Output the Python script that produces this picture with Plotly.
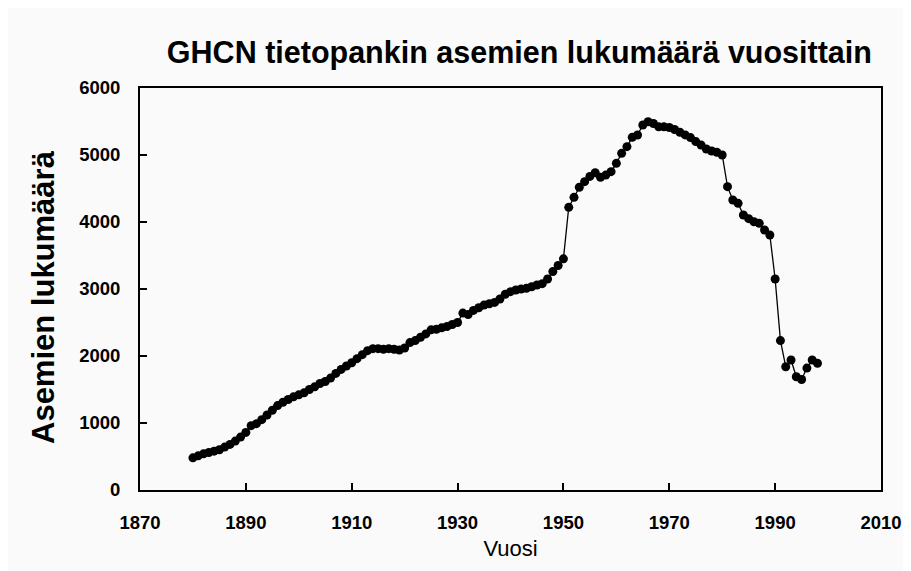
import plotly.graph_objects as go

years = list(range(1880, 1999))
stations = [
    480, 510, 540, 560, 580, 600, 640, 680, 730, 790,          # 1880-1889
    860, 960, 990, 1050, 1120, 1190, 1260, 1310, 1350, 1390,   # 1890-1899
    1420, 1450, 1500, 1540, 1590, 1620, 1670, 1740, 1800, 1850,  # 1900-1909
    1900, 1960, 2020, 2080, 2110, 2110, 2100, 2110, 2100, 2090,  # 1910-1919
    2120, 2200, 2230, 2280, 2330, 2390, 2400, 2420, 2440, 2470,  # 1920-1929
    2500, 2640, 2620, 2680, 2720, 2760, 2780, 2800, 2850, 2920,  # 1930-1939
    2960, 2985, 3000, 3010, 3034, 3060, 3080, 3150, 3260, 3350,  # 1940-1949
    3450, 4219, 4368, 4518, 4602, 4680, 4736, 4667, 4700, 4751,  # 1950-1959
    4876, 5025, 5124, 5264, 5298, 5448, 5497, 5470, 5420, 5420,  # 1960-1969
    5410, 5380, 5340, 5300, 5260, 5200, 5150, 5090, 5060, 5040,  # 1970-1979
    5000, 4527, 4328, 4279, 4104, 4050, 4004, 3980, 3880, 3806,  # 1980-1989
    3150, 2230, 1840, 1940, 1690, 1650, 1820, 1940, 1890,        # 1990-1998
]

x_ticks = [1870, 1890, 1910, 1930, 1950, 1970, 1990, 2010]
y_ticks = [0, 1000, 2000, 3000, 4000, 5000, 6000]

title_text = "GHCN tietopankin asemien lukumäärä vuosittain"
x_title = "Vuosi"
y_title = "Asemien lukumäärä"

bg = "#fafafa"
font_family = "Liberation Sans, Arial, sans-serif"

# the page body has an 8px default margin, so the figure is sized to compensate
W, H = 903, 563
ML, MR, MT, MB = 132, 30, 80, 81
plot_w = W - ML - MR
plot_h = H - MT - MB

fig = go.Figure(
    go.Scatter(
        x=years,
        y=stations,
        mode="lines+markers",
        line=dict(color="black", width=1.3),
        marker=dict(color="black", size=9, symbol="circle"),
        showlegend=False,
    )
)

fig.update_layout(
    width=W,
    height=H,
    paper_bgcolor=bg,
    plot_bgcolor=bg,
    margin=dict(l=ML, r=MR, t=MT, b=MB),
    font=dict(family=font_family, color="black"),
    title=dict(
        text="<b>" + title_text + "</b>",
        font=dict(size=30.5, family=font_family, color="black"),
        x=0.512,
        xref="paper",
        xanchor="center",
        y=1 - 44 / H,
        yref="container",
        yanchor="middle",
    ),
    annotations=[
        dict(
            text="<b>" + y_title + "</b>",
            xref="paper",
            yref="paper",
            x=-97 / plot_w,
            y=(482 - 289) / plot_h,
            xanchor="center",
            yanchor="middle",
            textangle=-90,
            showarrow=False,
            font=dict(size=31, family=font_family, color="black"),
        )
    ],
)

fig.update_xaxes(
    range=[1870, 2010],
    tickvals=x_ticks,
    ticktext=[str(v) for v in x_ticks],
    ticks="inside",
    ticklen=7,
    tickwidth=1.5,
    tickcolor="black",
    showline=True,
    linecolor="black",
    linewidth=2,
    mirror=True,
    showgrid=False,
    zeroline=False,
    automargin=False,
    tickfont=dict(size=18.5, family=font_family, color="black", weight="bold"),
    ticklabelstandoff=15,
    title=dict(text=x_title, font=dict(size=22, family=font_family, color="black"), standoff=8),
)

fig.update_yaxes(
    range=[0, 6000],
    tickvals=y_ticks,
    ticktext=[str(v) for v in y_ticks],
    ticks="inside",
    ticklen=7,
    tickwidth=1.5,
    tickcolor="black",
    showline=True,
    linecolor="black",
    linewidth=2,
    mirror=True,
    showgrid=False,
    zeroline=False,
    automargin=False,
    tickfont=dict(size=18.5, family=font_family, color="black", weight="bold"),
    ticklabelstandoff=14,
)

fig.write_html("out.html")
